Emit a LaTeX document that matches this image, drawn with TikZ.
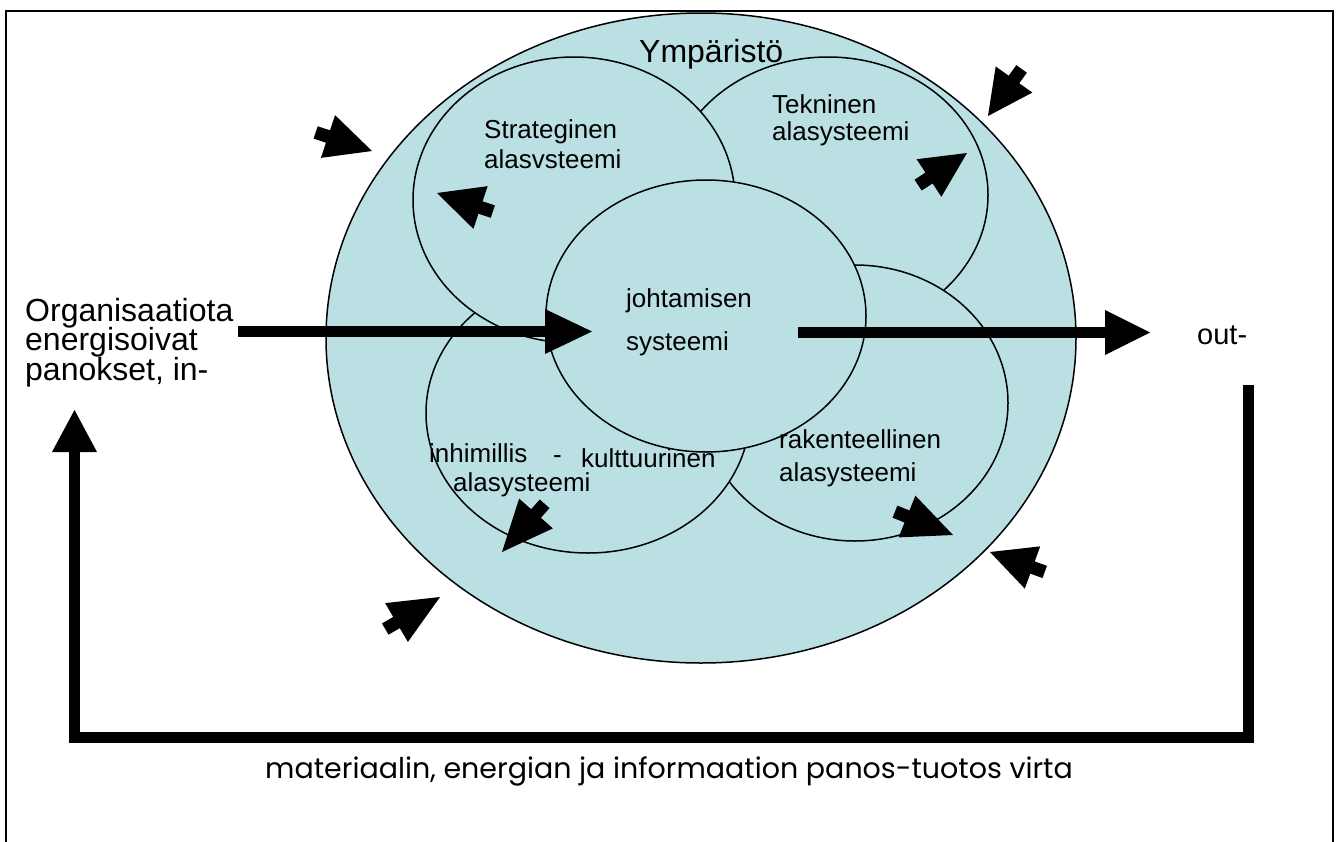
\documentclass[tikz,border=0pt]{standalone}
\usepackage{fontspec}
\setmainfont{Liberation Sans}
\newfontfamily\gothicfont{Poppins}
\usetikzlibrary{shapes.geometric,calc}
\definecolor{envblue}{RGB}{187,224,227}
\newcommand{\blockarrow}[3]{%
  \coordinate (#1-t) at (#2);
  \coordinate (#1-b) at (#3);
  \coordinate (#1-c) at ($(#1-b)!-13pt!(#1-t)$);
  \fill[arrowfill] (#1-t) -- ($(#1-b)!22.5pt!90:(#1-t)$) -- ($(#1-b)!6.5pt!90:(#1-t)$)
    -- ($(#1-c)!6.5pt!90:(#1-t)$) -- ($(#1-c)!6.5pt!-90:(#1-t)$)
    -- ($(#1-b)!6.5pt!-90:(#1-t)$) -- ($(#1-b)!22.5pt!-90:(#1-t)$) -- cycle;}
\newcommand{\headtri}[2]{%
  \fill[arrowfill] (#1) -- ($(#2)!22.5pt!90:(#1)$) -- ($(#2)!22.5pt!-90:(#1)$) -- cycle;}
\begin{document}
\begin{tikzpicture}[x=1pt,y=-1pt,
  frame/.style={draw=black,line width=1.8pt},
  sys/.style={ellipse,draw=black,line width=1.5pt,fill=envblue,inner sep=0pt},
  txt/.style={inner sep=0pt,anchor=base west,font=\fontsize{26}{30}\selectfont},
  bigtxt/.style={inner sep=0pt,anchor=base west,font=\fontsize{32}{30}\selectfont},
  arrowfill/.style={fill=black},
  shaft/.style={draw=black,line width=11.5pt},
  loopline/.style={draw=black,line width=11.5pt,miter limit=10}]
\useasboundingbox (0,0) rectangle (1339,841);
\draw[frame] (6,845) -- (6,11) -- (1333,11) -- (1333,845);

% environment and subsystems
\node[sys,minimum width=750pt,minimum height=650pt] (env) at (701,338) {};
\node[sys,minimum width=320pt,minimum height=276pt] (tek) at (828,195) {};
\node[sys,minimum width=306pt,minimum height=276pt] (rak) at (855,403) {};
\node[sys,minimum width=324pt,minimum height=280pt] (inh) at (588,413) {};
\node[sys,minimum width=322pt,minimum height=286pt] (str) at (574,200) {};
\node[sys,minimum width=320pt,minimum height=272pt] (joh) at (706,316) {};

% labels
\node[txt,font=\fontsize{32}{34}\selectfont] (ymp) at (639,62) {Ympäristö};
\node[txt] (str1) at (484,138) {Strateginen};
\node[txt] (str2) at (484,168) {alasvsteemi};
\node[txt] (tek1) at (772,113) {Tekninen};
\node[txt] (tek2) at (772,140) {alasysteemi};
\node[txt] (joh1) at (626,307) {johtamisen};
\node[txt] (joh2) at (626,350) {systeemi};
\node[txt] (inh1) at (429,462) {inhimillis};
\node[txt] (inh2) at (553,463) {-};
\node[txt] (inh3) at (581,467) {kulttuurinen};
\node[txt] (inh4) at (453,491) {alasysteemi};
\node[txt] (rak1) at (779,448) {rakenteellinen};
\node[txt] (rak2) at (779,481) {alasysteemi};
\node[bigtxt] (in1) at (25,321) {Organisaatiota};
\node[bigtxt] (in2) at (25,350) {energisoivat};
\node[bigtxt] (in3) at (25,380) {panokset, in-};
\node[txt,font=\fontsize{29}{32}\selectfont] (out) at (1197,344) {out-};
\node[inner sep=0pt,anchor=base,font=\gothicfont\fontsize{28.5}{32}\selectfont] (flow) at (669,778)
  {materiaalin, energian ja informaation panos-tuotos virta};

% input arrow
\coordinate (inS) at (238,331.5);
\coordinate (inB) at (545,331.5);
\coordinate (inT) at (592,331.5);
\draw[shaft] (inS) -- ($(inB)!1pt!(inT)$);
\headtri{inT}{inB}
% output arrow
\coordinate (outS) at (798,332.5);
\coordinate (outB) at (1105,332.5);
\coordinate (outT) at (1150,332.5);
\draw[shaft] (outS) -- ($(outB)!1pt!(outT)$);
\headtri{outT}{outB}
% feedback loop
\coordinate (lpA) at (1248.5,385);
\coordinate (lpB) at (1248.5,737.5);
\coordinate (lpC) at (74.5,737.5);
\coordinate (lpD) at (74.5,452);
\coordinate (lpT) at (74.5,410);
\draw[loopline] (lpA) -- (lpB) -- (lpC) -- (lpD);
\headtri{lpT}{lpD}

% small block arrows
\blockarrow{a1}{372,151}{328,136.5}
\blockarrow{a2}{437,193}{480.5,207.5}
\blockarrow{a3}{988,116}{1014,79.5}
\blockarrow{a4}{967,153}{929,178}
\blockarrow{a5}{502,552}{536,513.5}
\blockarrow{a6}{440,597}{396.5,622.5}
\blockarrow{a7}{953,535}{907,516.5}
\blockarrow{a8}{990,552}{1032.5,567.5}
\end{tikzpicture}
\end{document}
